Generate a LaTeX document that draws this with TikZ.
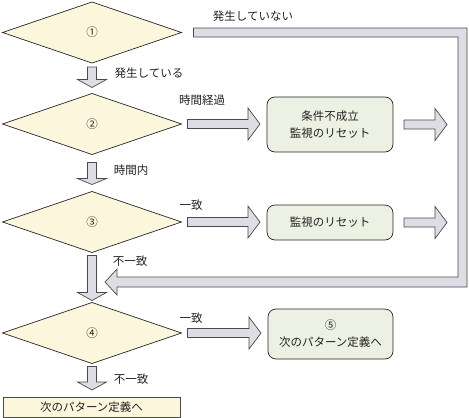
\documentclass[tikz,border=0pt]{standalone}
\usepackage{fontspec}
\setmainfont{Noto Sans CJK JP}
\usetikzlibrary{shapes.geometric,calc}
\definecolor{dfill}{HTML}{FCF6DC}
\definecolor{bfill}{HTML}{EDF1E3}
\definecolor{afill}{HTML}{DEDDE6}
\definecolor{aline}{HTML}{4A4A4A}
\definecolor{txt}{HTML}{222222}
\tikzset{
  decision/.style={diamond, draw=black!85, fill=dfill, line width=0.7pt, minimum width=179pt, minimum height=61pt, aspect=2.93, inner sep=0pt, outer sep=0pt, text=txt, font=\fontsize{11.5}{14}\selectfont},
  procbox/.style={draw=black!85, fill=bfill, line width=0.7pt, rounded corners=8pt, inner sep=0pt, outer sep=0pt, align=center, text=txt, font=\fontsize{11.5}{17}\selectfont},
  endbox/.style={draw=aline, fill=dfill, line width=0.7pt, inner sep=0pt, outer sep=0pt, text=txt, font=\fontsize{11.5}{14}\selectfont},
  lbl/.style={text=txt, inner sep=0pt, font=\fontsize{11.5}{14}\selectfont},
  barr/.style={draw=aline, fill=afill, line width=0.7pt, line join=miter}
}
\newcommand\dnarrow[3][8pt]{%
  \draw[barr] let \p1=(#2), \p2=(#3) in
   (\x1-4.5pt,\y1) -- (\x1-4.5pt,\y2+#1) -- (\x1-14.5pt,\y2+#1) -- (\x1,\y2)
   -- (\x1+14.5pt,\y2+#1) -- (\x1+4.5pt,\y2+#1) -- (\x1+4.5pt,\y1) -- cycle;}
\newcommand\rtarrow[3][12pt]{%
  \draw[barr] let \p1=(#2), \p2=(#3) in
   (\x1,\y1+4.5pt) -- (\x2-#1,\y1+4.5pt) -- (\x2-#1,\y1+16pt) -- (\x2,\y1)
   -- (\x2-#1,\y1-16pt) -- (\x2-#1,\y1-4.5pt) -- (\x1,\y1-4.5pt) -- cycle;}
\begin{document}
\begin{tikzpicture}[x=1pt,y=-1pt]
\useasboundingbox (0,0) rectangle (469,418);
% decisions
\node[decision] (d1) at (92,32.5) {①};
\node[decision] (d2) at (92,124) {②};
\node[decision] (d3) at (92,222) {③};
\node[decision] (d4) at (92,333) {④};
% boxes
\node[procbox, minimum width=126pt, minimum height=55pt] (b1) at (330,124.5) {条件不成立\\監視のリセット};
\node[procbox, minimum width=126pt, minimum height=35pt] (b2) at (330,222.5) {監視のリセット};
\node[procbox, minimum width=125pt, minimum height=50pt] (b5) at (330.5,334) {⑤\\次のパターン定義へ};
\node[endbox, minimum width=177pt, minimum height=20pt] (bend) at (91.5,407) {次のパターン定義へ};
% free ends
\coordinate (o1) at (447,124.5);
\coordinate (o2) at (447,222.5);
\coordinate (fbc) at (462.5,282);
\coordinate (fbtip) at (105,282);
% down arrows
\dnarrow{$(d1.south)+(0,4)$}{$(d2.north)+(0,-6)$}
\dnarrow[6pt]{$(d2.south)+(0,8)$}{$(d3.north)+(0,-7)$}
\dnarrow{$(d3.south)+(0,3)$}{$(d4.north)+(0,-2)$}
\dnarrow{$(d4.south)+(0,3)$}{$(bend.north)+(0,-7)$}
% right arrows
\rtarrow{$(d2.east)+(6,0)$}{$(b1.west)+(-7,0)$}
\rtarrow{$(d3.east)+(6,0)$}{$(b2.west)+(-7,0)$}
\rtarrow{$(d4.east)+(6,0)$}{$(b5.west)+(-7,0)$}
\rtarrow{$(b1.east)+(11,0)$}{o1}
\rtarrow{$(b2.east)+(11,0)$}{o2}
% feedback arrow
\draw[barr] let \p1=($(d1.east)+(12,0)$), \p2=(fbc), \p3=(fbtip) in
  (\x1,\y1+4.5pt) -- (\x2+4.5pt,\y1+4.5pt) -- (\x2+4.5pt,\y3-5pt) -- (\x3+12pt,\y3-5pt)
  -- (\x3+12pt,\y3-13pt) -- (\x3,\y3) -- (\x3+12pt,\y3+13pt) -- (\x3+12pt,\y3+5pt)
  -- (\x2-4.5pt,\y3+5pt) -- (\x2-4.5pt,\y1-4.5pt) -- (\x1,\y1-4.5pt) -- cycle;
% labels
\node[lbl] (l1) at (253,16) {発生していない};
\node[lbl] (l2) at (149,73) {発生している};
\node[lbl] (l3) at (202,100) {時間経過};
\node[lbl] (l4) at (131,170) {時間内};
\node[lbl] (l5) at (191,205) {一致};
\node[lbl] (l6) at (130,261) {不一致};
\node[lbl] (l7) at (191,318) {一致};
\node[lbl] (l8) at (131,379) {不一致};
\end{tikzpicture}
\end{document}
